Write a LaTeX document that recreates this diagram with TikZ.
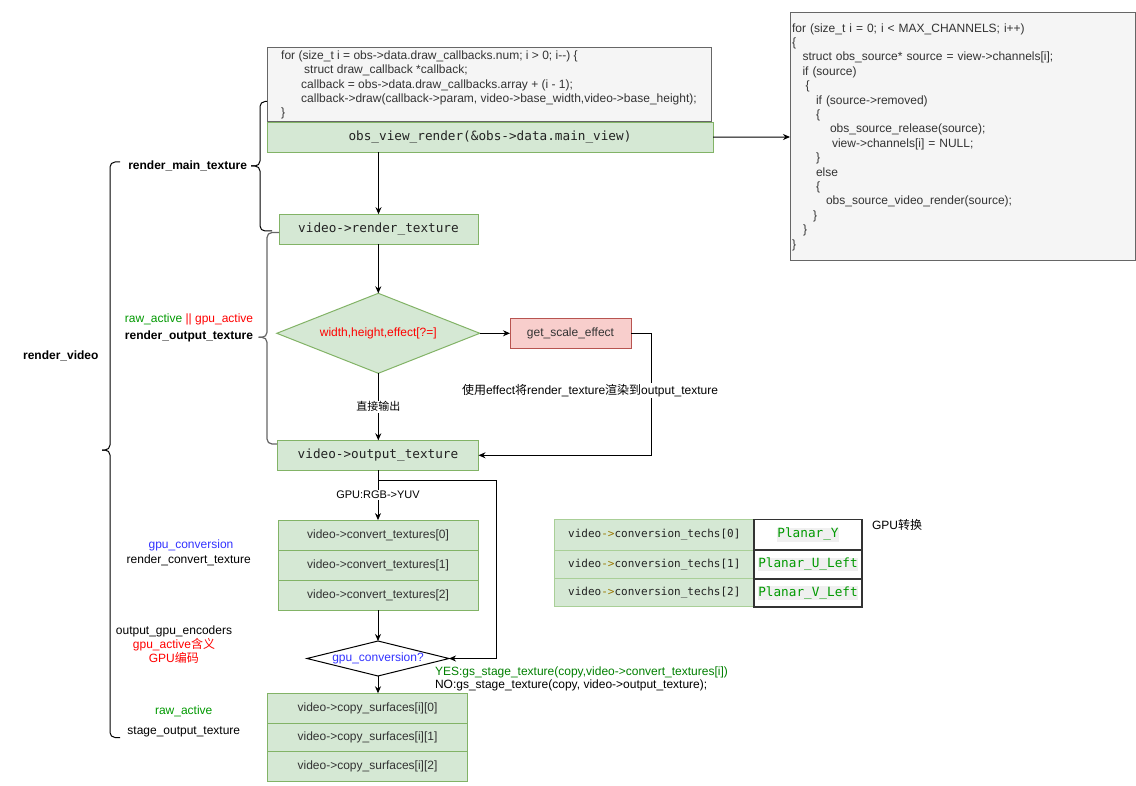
\documentclass[tikz,border=0pt]{standalone}
\usepackage{fontspec}
\setmainfont{Liberation Sans}
\newfontfamily\cjk{Noto Sans CJK SC}
\newfontfamily\monof{DejaVu Sans Mono}
\usetikzlibrary{shapes.geometric,arrows.meta}
\definecolor{codefill}{HTML}{F5F5F5}
\definecolor{codeborder}{HTML}{666666}
\definecolor{codetext}{HTML}{333333}
\definecolor{gfill}{HTML}{D5E8D4}
\definecolor{gborder}{HTML}{82B366}
\definecolor{tborder}{HTML}{A9CF97}
\definecolor{rfill}{HTML}{F8CECC}
\definecolor{rborder}{HTML}{B85450}
\definecolor{tgreen}{HTML}{009900}
\definecolor{tgreendk}{HTML}{008000}
\definecolor{tred}{HTML}{FF0000}
\definecolor{tblue}{HTML}{3333FF}
\definecolor{olivec}{HTML}{9A7800}
\definecolor{monotext}{HTML}{222222}
\definecolor{hlgray}{HTML}{F0F0F0}
\definecolor{cellborder}{HTML}{333333}
\definecolor{bracegray}{HTML}{666666}
\tikzset{
  every node/.style={inner sep=0pt, outer sep=0pt, font=\fontsize{12}{14.4}\selectfont},
  gbox/.style={draw=gborder, fill=gfill, line width=1pt, minimum height=30pt},
  monofont/.style={font=\monof\fontsize{12.7}{15}\selectfont, text=monotext},
  sansbox/.style={gbox, minimum width=200pt, text=codetext},
  codebox/.style={draw=codeborder, fill=codefill, line width=1pt, text=codetext, align=left, inner ysep=0pt},
  arr/.style={-{Stealth[length=7pt,width=6pt]}, line width=1pt, black},
  lbl/.style={fill=white, inner sep=1pt, font=\fontsize{11}{13}\selectfont},
  bracestyle/.style={line width=1pt, black, rounded corners=5pt},
  brace2style/.style={line width=1.2pt, bracegray, rounded corners=5pt},
  techcell/.style={draw=tborder, fill=gfill, line width=1pt, minimum width=200pt, font=\monof\fontsize{11}{13}\selectfont, text=monotext},
  planarcell/.style={draw=cellborder, fill=white, line width=1.2pt, minimum width=108pt, font=\monof\fontsize{12.7}{15}\selectfont, text=tgreen},
  sidelbl/.style={font=\fontsize{12}{14.4}\selectfont},
  sidebold/.style={font=\bfseries\fontsize{12}{14.4}\selectfont}
}
\setlength{\fboxsep}{0.6pt}
\begin{document}
\begin{tikzpicture}[x=1pt,y=-1pt]
\useasboundingbox[fill=white] (0,0) rectangle (1136,786);

% ---------- top code box and obs_view_render ----------
\node[codebox, minimum width=444pt, minimum height=74pt] (code1) at (489,85)
{for (size\_t i = obs->data.draw\_callbacks.num; i > 0; i-{}-) \{\\
\hspace*{23pt}struct draw\_callback *callback;\\
\hspace*{20pt}callback = obs->data.draw\_callbacks.array + (i - 1);\\
\hspace*{20pt}callback->draw(callback->param, video->base\_width,video->base\_height);\\
\}};
\node[gbox, minimum width=446pt, monofont] (ovr) at (490,137.2) {obs\_view\_render(\&obs->data.main\_view)};

% ---------- right code box ----------
\node[codebox, minimum width=345pt, minimum height=248pt, text width=341pt, inner xsep=2pt] (code2) at (962.5,137)
{for (size\_t i = 0; i < MAX\_CHANNELS; i++)\\
\{\\
\hspace*{10.5pt}struct obs\_source* source = view->channels[i];\\
\hspace*{10.5pt}if (source)\\
\hspace*{13.5pt}\{\\
\hspace*{24pt}if (source->removed)\\
\hspace*{24pt}\{\\
\hspace*{38pt}obs\_source\_release(source);\\
\hspace*{40pt}view->channels[i] = NULL;\\
\hspace*{24pt}\}\\
\hspace*{24pt}else\\
\hspace*{24pt}\{\\
\hspace*{34pt}obs\_source\_video\_render(source);\\
\hspace*{21pt}\}\\
\hspace*{11pt}\}\\
\}};

% ---------- main flow ----------
\node[gbox, minimum width=199pt, monofont] (rt) at (378.5,229.2) {video->render\_texture};
\node[diamond, aspect=2.54, draw=gborder, fill=gfill, line width=1pt, minimum width=203pt, minimum height=80pt, text=tred] (d1) at (378.3,333.3) {width,height,effect[?=]};
\node[draw=rborder, fill=rfill, line width=1pt, minimum width=121pt, minimum height=30pt, text=codetext] (gse) at (570.5,333.3) {get\_scale\_effect};
\node[gbox, minimum width=201pt, monofont] (ot) at (378,455.3) {video->output\_texture};

\node[sansbox] (ct0) at (378,535.1) {video->convert\_textures[0]};
\node[sansbox] (ct1) at (378,565.2) {video->convert\_textures[1]};
\node[sansbox] (ct2) at (378,595.4) {video->convert\_textures[2]};

\node[diamond, aspect=4.06, draw=black, fill=white, line width=1pt, minimum width=142pt, minimum height=35pt, text=tblue] (d2) at (378,658.5) {gpu\_conversion?};

\node[sansbox] (cs0) at (367.5,708.3) {video->copy\_surfaces[i][0]};
\node[sansbox, minimum height=28.7pt] (cs1) at (367.5,737.5) {video->copy\_surfaces[i][1]};
\node[sansbox, minimum height=29.7pt] (cs2) at (367.5,766.7) {video->copy\_surfaces[i][2]};

% ---------- conversion techs table ----------
\node[techcell, minimum height=31pt] (tl0) at (654.3,534.6) {video{\color{olivec}->}conversion\_techs[0]};
\node[techcell, minimum height=29pt] (tl1) at (654.3,564.5) {video{\color{olivec}->}conversion\_techs[1]};
\node[techcell, minimum height=28pt] (tl2) at (654.3,592.9) {video{\color{olivec}->}conversion\_techs[2]};
\node[planarcell, minimum height=31pt] (tr0) at (808,534.6) {\colorbox{hlgray}{Planar\_Y}};
\node[planarcell, minimum height=29pt] (tr1) at (808,564.5) {\colorbox{hlgray}{Planar\_U\_Left}};
\node[planarcell, minimum height=28pt] (tr2) at (808,592.9) {\colorbox{hlgray}{Planar\_V\_Left}};
\node[text=black] (gpuconv) at (897,525) {GPU{\cjk 转换}};

% ---------- connectors ----------
\draw[arr] (ovr.east) -- (code2.west);
\draw[arr] (ovr.south -| rt.north) -- (rt.north);
\draw[arr] (rt.south -| d1.north) -- (d1.north);
\draw[arr] (d1.east) -- (gse.west);
\draw[arr] (gse.east) -- ++(20,0) |- (ot.east)
  node[pos=0.234, xshift=-61pt, fill=white, inner sep=1pt, font=\fontsize{12}{14.4}\selectfont] (lbleffect) {{\cjk 使用}effect{\cjk 将}render\_texture{\cjk 渲染到}output\_texture};
\draw[arr] (d1.south) -- (d1.south |- ot.north) node[midway, lbl] (lbldirect) {{\cjk 直接输出}};
\draw[arr] (ot.south) -- (ct0.north) node[midway, lbl] (lblgpu) {GPU:RGB->YUV};
\coordinate (br) at (496.7,480.7);
\draw[arr] (ot.south) -- (ot.south |- br) -- (br) |- (d2.east);
\draw[arr] (ct2.south) -- (d2.north);
\draw[arr] (d2.south) -- (d2.south |- cs0.north);
\node[anchor=west, align=left, font=\fontsize{12}{12.8}\selectfont] (yesno) at (435,679.2)
  {{\color{tgreendk}YES:gs\_stage\_texture(copy,video->convert\_textures[i])}\\NO:gs\_stage\_texture(copy, video->output\_texture);};

% ---------- braces ----------
\draw[bracestyle] (267,101.5) -- (260,101.5) -- (260,166) -- (251,166);
\draw[bracestyle] (251,166) -- (260,166) -- (260,231) -- (272,231);
\draw[brace2style] (279,232.5) -- (267,232.5) -- (267,337.3) -- (258.5,337.3);
\draw[brace2style] (258.5,337.3) -- (267,337.3) -- (267,444) -- (277,444);
\draw[bracestyle] (120,162) -- (110,162) -- (110,450) -- (102,450);
\draw[bracestyle] (102,450) -- (110,450) -- (110,737.5) -- (120,737.5);

% ---------- side labels ----------
\node[sidebold, anchor=east] (lmain) at (247,166) {render\_main\_texture};
\node[sidelbl] (lact) at (189,319) {{\color{tgreen}raw\_active} {\color{tred}|| gpu\_active}};
\node[sidebold] (lout) at (189,336.3) {render\_output\_texture};
\node[sidebold] (lvideo) at (60.8,355.7) {render\_video};
\node[sidelbl, text=tblue] (lgpuc) at (191,545) {gpu\_conversion};
\node[sidelbl] (lconv) at (188.7,560.7) {render\_convert\_texture};
\node[sidelbl] (lenc) at (174,631) {output\_gpu\_encoders};
\node[sidelbl, text=tred] (lgact) at (174,644.3) {gpu\_active{\cjk 含义}};
\node[sidelbl, text=tred] (lgenc) at (173.8,658.3) {GPU{\cjk 编码}};
\node[sidelbl, text=tgreen] (lraw) at (183.7,711.7) {raw\_active};
\node[sidelbl] (lstage) at (183.8,731.7) {stage\_output\_texture};
\end{tikzpicture}
\end{document}
